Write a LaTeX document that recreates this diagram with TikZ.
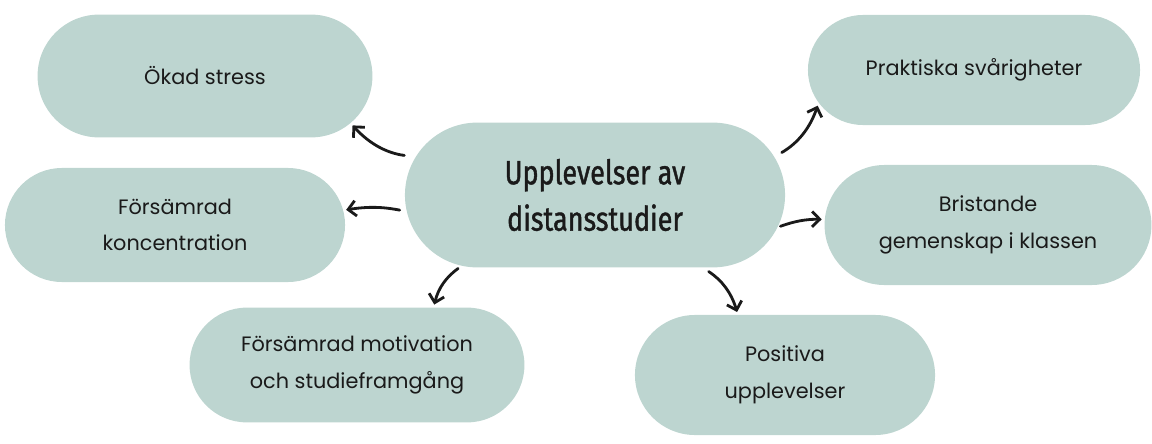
\documentclass[tikz,border=0pt]{standalone}
\usepackage{fontspec}
\usepackage{xcolor}
\usepackage{tikz}
\usetikzlibrary{shapes.misc, arrows.meta}
\setmainfont{Poppins}
\newfontfamily\hubfont[FakeStretch=0.8, FakeBold=1.2]{Fira Sans}
\definecolor{SageMist}{HTML}{BDD5D0}
\definecolor{InkBlack}{HTML}{1A1A1A}

\begin{document}
\begin{tikzpicture}[x=0.025cm, y=0.025cm,
      blob/.style={rounded rectangle, fill=SageMist, inner sep=0pt, align=center,
                   text=InkBlack, font=\fontsize{14.8}{26}\selectfont},
      arr/.style={-{Straight Barb[length=5.5pt, width=11pt]}, line width=2pt,
                  line cap=round, InkBlack}]
      \useasboundingbox (0,0) rectangle (1152,443);

      % Centre
      \node[blob, minimum width=9.5cm, minimum height=3.62cm,
            font=\hubfont\fontsize{24}{33}\selectfont] (hub) at (595,248) {Upplevelser av\\distansstudier};

      % Left side
      \node[blob, minimum width=8.37cm, minimum height=3.07cm] (stress) at (205,367) {Ökad stress};
      \node[blob, minimum width=8.5cm, minimum height=2.85cm] (conc) at (175,218) {Försämrad\\koncentration};
      \node[blob, minimum width=8.37cm, minimum height=2.87cm] (motiv) at (357,78) {Försämrad motivation\\och studieframgång};

      % Right side
      \node[blob, minimum width=8.3cm, minimum height=2.75cm] (prakt) at (974,373) {Praktiska svårigheter};
      \node[blob, minimum width=8.17cm, minimum height=3.0cm] (brist) at (988,218) {Bristande\\gemenskap i klassen};
      \node[blob, minimum width=7.5cm, minimum height=3.0cm] (posit) at (785,68) {Positiva\\upplevelser};

      % Arrows
      \draw[arr, shorten <=8pt, shorten >=2pt] (hub.168) to[bend left=20] (stress.-18);
      \draw[arr, shorten <=5pt, shorten >=2pt] (hub.185) to[bend right=10] (conc.5);
      \draw[arr, shorten <=3pt, shorten >=2pt] (hub.208) to[bend right=20] (motiv.37);
      \draw[arr, shorten <=5pt, shorten >=2pt] (hub.-34) to[bend left=20] (posit.128);
      \draw[arr, shorten <=6pt, shorten >=2pt] (hub.12) to[bend right=20] (prakt.192);
      \draw[arr, shorten <=2pt, shorten >=2pt] (hub.-10) to[bend left=10] (brist.178);
    \end{tikzpicture}
\end{document}
